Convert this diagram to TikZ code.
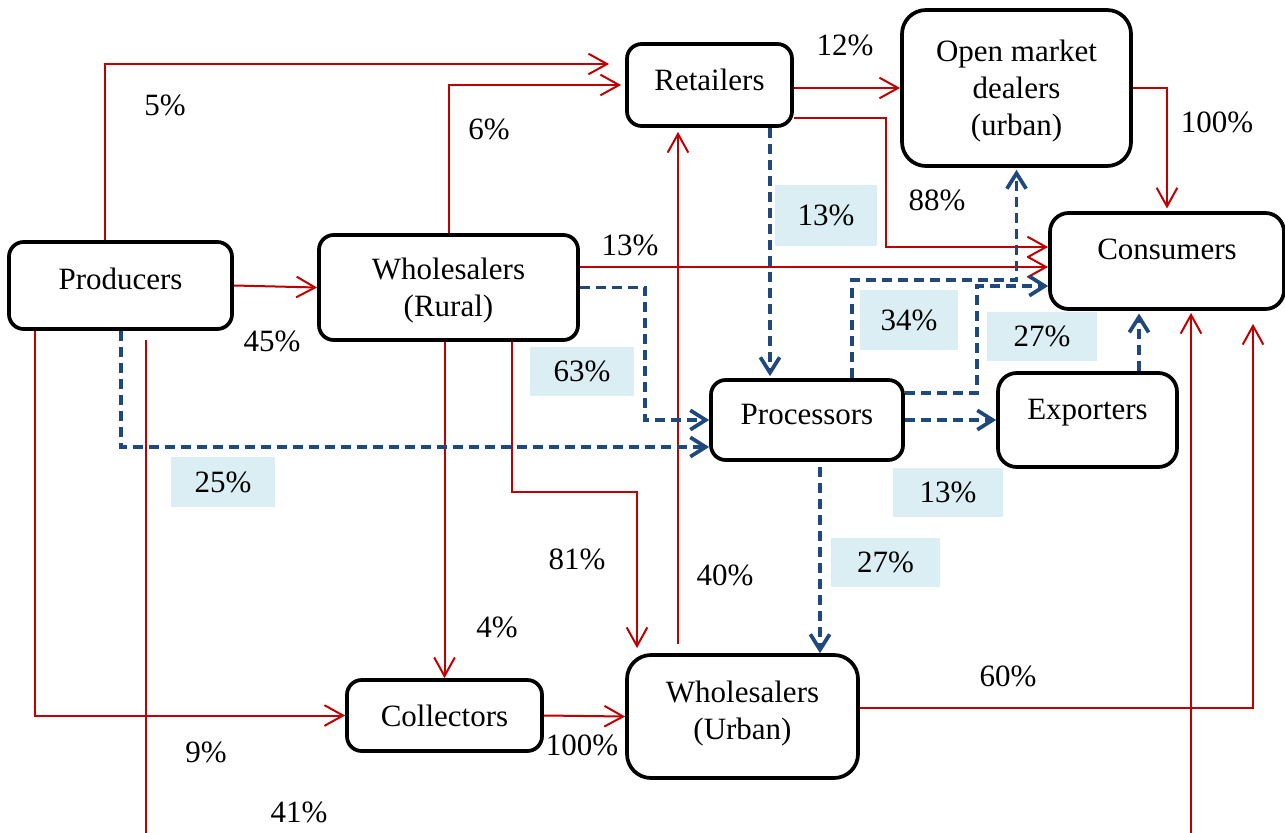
\documentclass[tikz,border=0pt]{standalone}
\usepackage{fontspec}
\setmainfont{Liberation Serif}
\usetikzlibrary{arrows.meta}

\definecolor{flowred}{RGB}{192,0,0}
\definecolor{procblue}{RGB}{31,73,125}
\definecolor{sharefill}{RGB}{218,238,243}

\tikzset{every picture/.style={line width=0.75pt}}
\tikzset{
  boxsize/.style 2 args={minimum width=#1*0.75pt, minimum height=#2*0.75pt},
  actor/.style={draw, line width=2.8pt, rounded corners=11pt, align=center, inner sep=0pt},
  flow/.style={color=flowred, line width=1.5pt, -{Straight Barb[length=14pt,width=15.5pt]}},
  procflow/.style={color=procblue, line width=2.8pt, dash pattern=on 7.5pt off 4.5pt, -{Straight Barb[length=11.5pt,width=14.5pt]}},
  share/.style={inner sep=0pt},
  sharebg/.style={fill=sharefill, inner sep=0pt},
}

\begin{document}
\begin{tikzpicture}[x=0.75pt,y=0.75pt,yscale=-1,xscale=1, font=\fontsize{23.25pt}{27.75pt}\selectfont]
\useasboundingbox (0,0) rectangle (1285,832);
\clip (0,0) rectangle (1285,832);

%Shape: Rounded Rect [actors]
\node[actor, boxsize={223}{87}, text depth=10.5pt] (prod) at (120.5,285.5) {Producers};
\node[actor, boxsize={259}{105}, text depth=0pt] (whr) at (448.5,287.5) {Wholesalers\\(Rural)};
\node[actor, boxsize={165}{82}, text depth=7.5pt] (ret) at (709.5,85) {Retailers};
\node[actor, boxsize={229}{156}, rounded corners=18pt, text depth=0pt] (omd) at (1016.5,88) {Open market\\dealers\\(urban)};
\node[actor, boxsize={234}{96}, rounded corners=14pt, text depth=18pt] (cons) at (1167,261) {Consumers};
\node[actor, boxsize={192}{80}, text depth=9pt] (proc) at (807,420) {Processors};
\node[actor, boxsize={179}{94}, rounded corners=14pt, text depth=16.5pt] (exp) at (1087.5,420) {Exporters};
\node[actor, boxsize={195}{71}] (coll) at (444.5,715.5) {Collectors};
\node[actor, boxsize={231}{123}, rounded corners=18pt, text depth=9pt] (whu) at (742.5,716.5) {Wholesalers\\(Urban)};

%Shape: Rect [shaded shares]
\node[sharebg, boxsize={104}{50}] (sProdProc) at (223,482) {25\%};
\node[sharebg, boxsize={104}{49}] (sWhrProc) at (582,371.5) {63\%};
\node[sharebg, boxsize={102}{61}] (sRetProc) at (826,215.5) {13\%};
\node[sharebg, boxsize={98}{60}] (sProcOmd) at (909,320) {34\%};
\node[sharebg, boxsize={110}{49}] (sProcCons) at (1042,336.5) {27\%};
\node[sharebg, boxsize={110}{49}] (sProcExp) at (948,492.5) {13\%};
\node[sharebg, boxsize={109}{49}] (sProcWhu) at (885.5,562.5) {27\%};

% Text Node
\node[share] (pProdRet) at (165,105) {5\%};
\node[share] (pWhrRet) at (489,129) {6\%};
\node[share] (pProdWhr) at (272,341) {45\%};
\node[share] (pWhrCons) at (630,245) {13\%};
\node[share] (pRetOmd) at (845,45) {12\%};
\node[share] (pRetCons) at (937,200) {88\%};
\node[share] (pOmdCons) at (1217,122) {100\%};
\node[share] (pProdColl) at (206,752) {9\%};
\node[share] (pProdCons) at (299,812) {41\%};
\node[share] (pWhrColl) at (497,627) {4\%};
\node[share] (pWhrWhu) at (577,559) {81\%};
\node[share] (pCollWhu) at (582,745) {100\%};
\node[share] (pWhuRet) at (725,575) {40\%};
\node[share] (pWhuCons) at (1008,676) {60\%};

%Straight Lines [red flows]
\draw[flow, shorten >=12pt] (prod.north -| 105,0) |- (ret.west |- 0,64);
\draw[flow, shorten >=3pt] (whr.north) |- (ret.west);
\draw[flow] (prod.east) -- (whr.west);
\draw[flow] (whr.east |- 0,267) -- (cons.west |- 0,267);
\draw[flow] (ret.east |- omd.west) -- (omd.west);
\draw[flow] (ret.east |- 0,118) -- (886,118) -- (886,247) -- (cons.west |- 0,247);
\draw[flow, shorten >=2pt] (omd.east) -| (cons.north);
\draw[flow] (prod.south -| 35,0) |- (coll.west);
\draw[flow, shorten <=6.75pt, shorten >=1.5pt] (prod.south -| 146,0) -- (146,860) -| (cons.south -| 1191,0);
\draw[flow] (whr.south -| coll.north) -- (coll.north);
\draw[flow, shorten >=3.75pt] (whr.south -| 512,0) |- (637,492) -- (whu.north -| 637,0);
\draw[flow] (coll.east) -- (whu.west);
\draw[flow, shorten <=6.75pt, shorten >=3pt] (whu.north -| 678,0) -- (ret.south -| 678,0);
\draw[flow, shorten >=9.75pt] (whu.east |- 0,708) -| (cons.south -| 1253,0);

%Straight Lines [dashed processing flows]
\draw[procflow] (prod.south -| 121,0) |- (proc.west |- 0,447);
\draw[procflow] (whr.east) -| (645,420) -- (proc.west);
\draw[procflow, shorten >=1.5pt] (ret.south -| 770,0) -- (proc.north -| 770,0);
\draw[procflow, shorten >=1.5pt] (proc.north -| 852,0) |- (omd.south |- 0,280) -- (omd.south);
\draw[procflow] (proc.east |- 0,393) -| (977,286) -- (cons.west |- 0,286);
\draw[procflow] (proc.east) -- (exp.west);
\draw[procflow, shorten >=2pt] (exp.north -| 1139,0) -- (cons.south -| 1139,0);
\draw[procflow, shorten <=3.75pt] (proc.south -| 820,0) -- (whu.north -| 820,0);

\end{tikzpicture}
\end{document}
